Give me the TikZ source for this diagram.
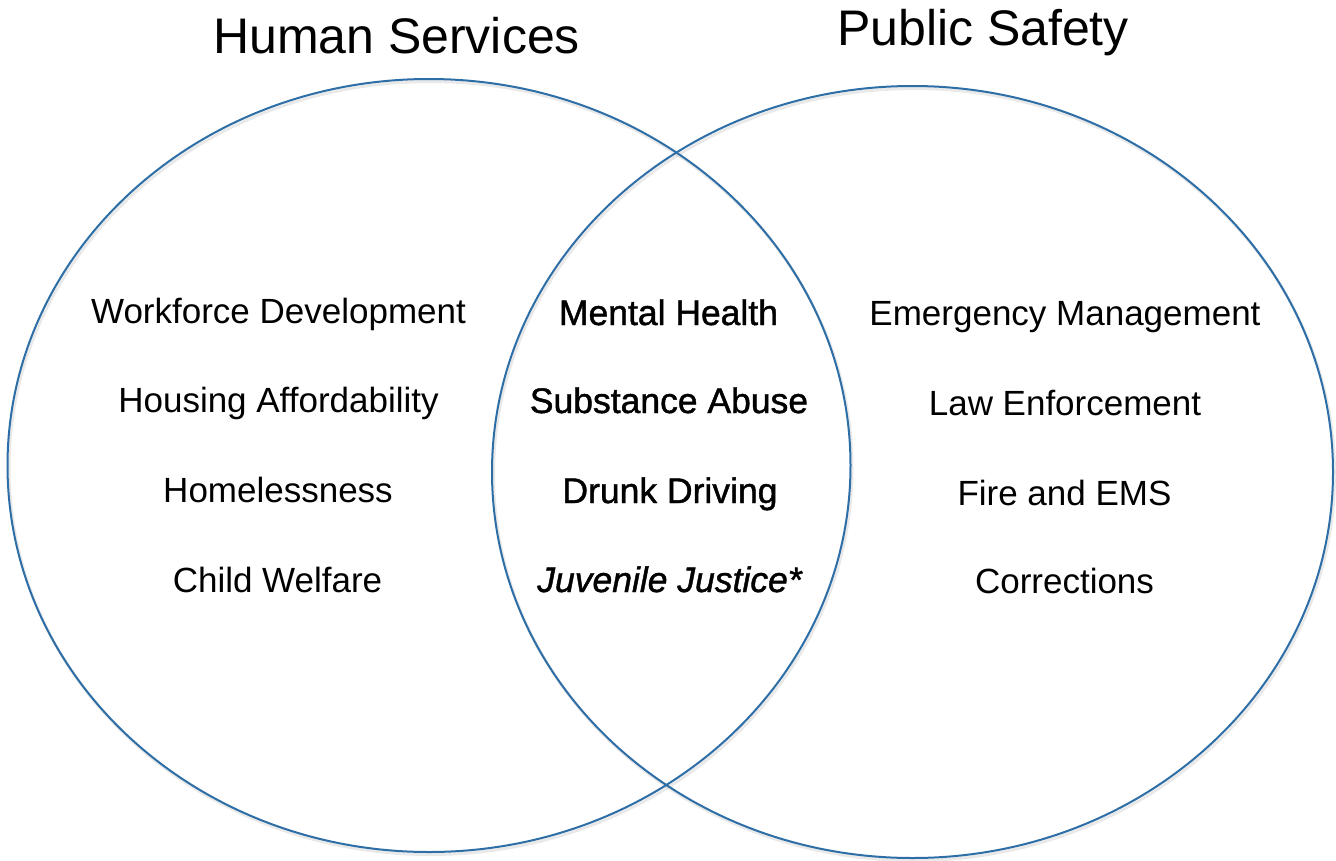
\documentclass[tikz,border=0pt]{standalone}
\usepackage{fontspec}
\setmainfont{Liberation Sans}
\newfontfamily\medfont[FakeBold=1.2]{Liberation Sans}
\definecolor{vennblue}{RGB}{46,110,166}
\begin{document}
\begin{tikzpicture}[x=1pt,y=-1pt,
  ring/.style={draw=vennblue,line width=2pt},
  ringshadow/.style={draw=black!25,line width=3pt,opacity=0.35},
  title/.style={anchor=base,inner sep=0pt,font=\fontsize{50}{56}\selectfont},
  item/.style={anchor=base,inner sep=0pt,font=\fontsize{35}{40}\selectfont},
  mid/.style={anchor=base,inner sep=0pt,font=\medfont\fontsize{35.5}{40}\selectfont}]
\useasboundingbox (0,0) rectangle (1336,860);
% shadows
\draw[ringshadow] (430.5,468) ellipse [x radius=421.5pt, y radius=386.5pt];
\draw[ringshadow] (914,474.5) ellipse [x radius=420.5pt, y radius=386pt];
% circles
\draw[ring] (429,465.5) ellipse [x radius=421.5pt, y radius=386.5pt];
\draw[ring] (912.5,472) ellipse [x radius=420.5pt, y radius=386pt];
% titles
\node[title] (hs) at (396.5,53) {Human Services};
\node[title] (ps) at (983,45) {Public Safety};
% left
\node[item] (l1) at (278.5,323) {Workforce Development};
\node[item] (l2) at (278.5,412) {Housing Affordability};
\node[item] (l3) at (278,502) {Homelessness};
\node[item] (l4) at (277.5,592) {Child Welfare};
% middle
\node[mid] (m1) at (668.5,325) {Mental Health};
\node[mid] (m2) at (669,413) {Substance Abuse};
\node[mid] (m3) at (670,503) {Drunk Driving};
\node[mid] (m4) at (669.5,592) {\itshape Juvenile Justice*};
% right
\node[item] (r1) at (1065,325) {Emergency Management};
\node[item] (r2) at (1065,415) {Law Enforcement};
\node[item] (r3) at (1064.5,505) {Fire and EMS};
\node[item] (r4) at (1064.5,593) {Corrections};
\end{tikzpicture}
\end{document}
